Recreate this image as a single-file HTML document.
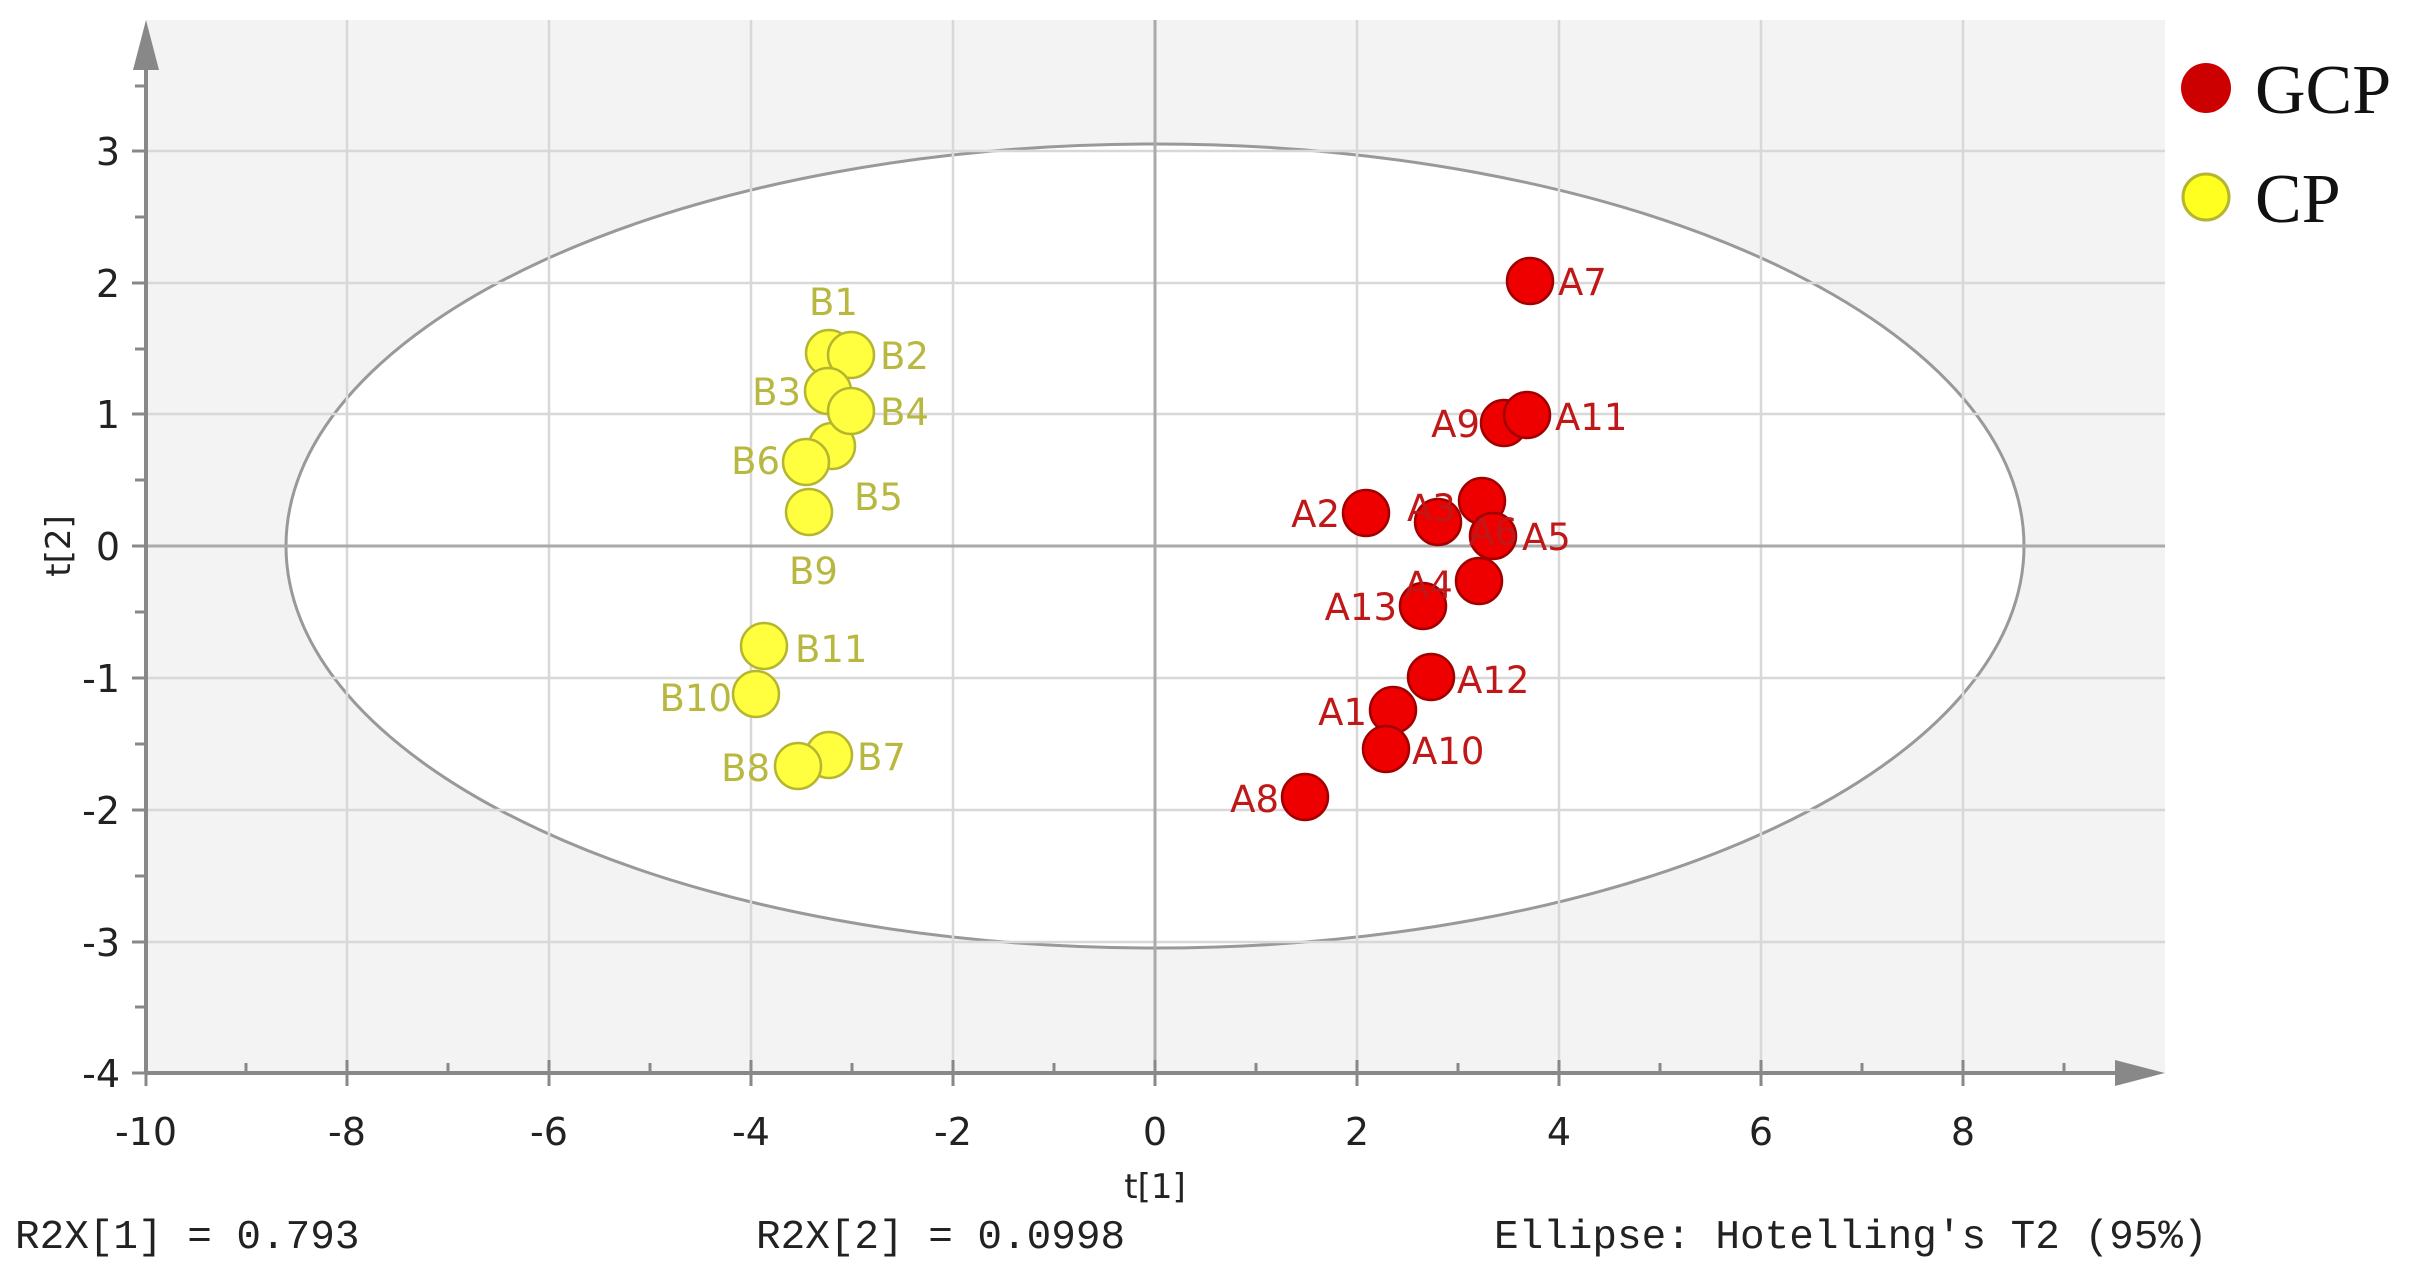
<!DOCTYPE html>
<html><head><meta charset="utf-8"><style>
html,body{margin:0;padding:0;background:#fff;}
svg{display:block;}
.tk{font-family:"DejaVu Sans","Liberation Sans",sans-serif;font-size:38px;fill:#222;}
.la{font-family:"DejaVu Sans","Liberation Sans",sans-serif;font-size:37px;}
.mono{font-family:"Liberation Mono","DejaVu Sans Mono",monospace;font-size:41px;fill:#222;}
</style></head><body>
<svg width="2430" height="1267" viewBox="0 0 2430 1267" xmlns="http://www.w3.org/2000/svg">
<rect x="146" y="20" width="2019" height="1053" fill="#f3f3f3"/>
<ellipse cx="1155" cy="546" rx="869" ry="402" fill="#fff" stroke="#999" stroke-width="3"/>
<g stroke="#d8d8d8" stroke-width="2.5">
<line x1="347" y1="20" x2="347" y2="1073"/><line x1="549" y1="20" x2="549" y2="1073"/>
<line x1="751" y1="20" x2="751" y2="1073"/><line x1="953" y1="20" x2="953" y2="1073"/>
<line x1="1357" y1="20" x2="1357" y2="1073"/><line x1="1559" y1="20" x2="1559" y2="1073"/>
<line x1="1761" y1="20" x2="1761" y2="1073"/><line x1="1963" y1="20" x2="1963" y2="1073"/>
<line x1="146" y1="151" x2="2165" y2="151"/><line x1="146" y1="283" x2="2165" y2="283"/>
<line x1="146" y1="414" x2="2165" y2="414"/><line x1="146" y1="678" x2="2165" y2="678"/>
<line x1="146" y1="810" x2="2165" y2="810"/><line x1="146" y1="942" x2="2165" y2="942"/>
</g>
<g stroke="#aaa" stroke-width="3">
<line x1="1155" y1="20" x2="1155" y2="1073"/><line x1="146" y1="546" x2="2165" y2="546"/>
</g>
<g stroke="#888" stroke-width="4">
<line x1="146" y1="60" x2="146" y2="1073"/><line x1="146" y1="1073" x2="2125" y2="1073"/>
</g>
<polygon points="146,20 133,70 159,70" fill="#888"/>
<polygon points="2165,1073 2115,1060 2115,1086" fill="#888"/>
<g stroke="#888" stroke-width="3">
<line x1="135" y1="86" x2="146" y2="86"/><line x1="132" y1="151" x2="146" y2="151"/>
<line x1="135" y1="217" x2="146" y2="217"/><line x1="132" y1="283" x2="146" y2="283"/>
<line x1="135" y1="349" x2="146" y2="349"/><line x1="132" y1="414" x2="146" y2="414"/>
<line x1="135" y1="480" x2="146" y2="480"/><line x1="132" y1="546" x2="146" y2="546"/>
<line x1="135" y1="612" x2="146" y2="612"/><line x1="132" y1="678" x2="146" y2="678"/>
<line x1="135" y1="744" x2="146" y2="744"/><line x1="132" y1="810" x2="146" y2="810"/>
<line x1="135" y1="876" x2="146" y2="876"/><line x1="132" y1="942" x2="146" y2="942"/>
<line x1="135" y1="1007" x2="146" y2="1007"/><line x1="132" y1="1073" x2="146" y2="1073"/>
<line x1="246" y1="1063" x2="246" y2="1073"/><line x1="347" y1="1060" x2="347" y2="1086"/>
<line x1="448" y1="1063" x2="448" y2="1073"/><line x1="549" y1="1060" x2="549" y2="1086"/>
<line x1="650" y1="1063" x2="650" y2="1073"/><line x1="751" y1="1060" x2="751" y2="1086"/>
<line x1="852" y1="1063" x2="852" y2="1073"/><line x1="953" y1="1060" x2="953" y2="1086"/>
<line x1="1054" y1="1063" x2="1054" y2="1073"/><line x1="1155" y1="1060" x2="1155" y2="1086"/>
<line x1="1256" y1="1063" x2="1256" y2="1073"/><line x1="1357" y1="1060" x2="1357" y2="1086"/>
<line x1="1458" y1="1063" x2="1458" y2="1073"/><line x1="1559" y1="1060" x2="1559" y2="1086"/>
<line x1="1660" y1="1063" x2="1660" y2="1073"/><line x1="1761" y1="1060" x2="1761" y2="1086"/>
<line x1="1862" y1="1063" x2="1862" y2="1073"/><line x1="1963" y1="1060" x2="1963" y2="1086"/>
<line x1="2064" y1="1063" x2="2064" y2="1073"/><line x1="146" y1="1073" x2="146" y2="1086"/>
</g>
<g class="tk" text-anchor="end">
<text x="120" y="165">3</text><text x="120" y="297">2</text><text x="120" y="428">1</text>
<text x="120" y="560">0</text><text x="120" y="692">-1</text><text x="120" y="824">-2</text>
<text x="120" y="956">-3</text><text x="120" y="1087">-4</text>
</g>
<g class="tk" text-anchor="middle">
<text x="146" y="1145">-10</text><text x="347" y="1145">-8</text><text x="549" y="1145">-6</text>
<text x="751" y="1145">-4</text><text x="953" y="1145">-2</text><text x="1155" y="1145">0</text>
<text x="1357" y="1145">2</text><text x="1559" y="1145">4</text><text x="1761" y="1145">6</text>
<text x="1963" y="1145">8</text>
<text x="1155" y="1198" font-size="34">t[1]</text>
<text transform="translate(70,546) rotate(-90)" font-size="34">t[2]</text>
</g>
<g fill="#ffff40" stroke="#b5b530" stroke-width="2.5">
<circle cx="829" cy="353" r="23"/><circle cx="851" cy="355" r="23"/>
<circle cx="828" cy="391" r="23"/><circle cx="832" cy="446" r="23"/>
<circle cx="851" cy="411" r="23"/><circle cx="806" cy="462" r="23"/>
<circle cx="809" cy="512" r="23"/><circle cx="764" cy="646" r="23"/>
<circle cx="756" cy="694" r="23"/><circle cx="829" cy="755" r="23"/>
<circle cx="798" cy="766" r="23"/>
</g>
<g fill="#ee0000" stroke="#a00000" stroke-width="2.5">
<circle cx="1530" cy="281" r="23"/><circle cx="1504" cy="423" r="23"/>
<circle cx="1527" cy="415" r="23"/><circle cx="1366" cy="513" r="23"/>
<circle cx="1482" cy="501" r="23"/><circle cx="1438" cy="522" r="23"/>
<circle cx="1493" cy="536" r="23"/><circle cx="1479" cy="581" r="23"/>
<circle cx="1423" cy="606" r="23"/><circle cx="1431" cy="677" r="23"/>
<circle cx="1393" cy="710" r="23"/><circle cx="1386" cy="749" r="23"/>
<circle cx="1305" cy="797" r="23"/>
</g>
<g class="la" fill="#b8b840">
<text x="809" y="315">B1</text><text x="880" y="369">B2</text>
<text x="801" y="405" text-anchor="end">B3</text><text x="880" y="425">B4</text>
<text x="780" y="474" text-anchor="end">B6</text><text x="854" y="510">B5</text>
<text x="789" y="584">B9</text><text x="795" y="662">B11</text>
<text x="732" y="711" text-anchor="end">B10</text><text x="857" y="770">B7</text>
<text x="770" y="781" text-anchor="end">B8</text>
</g>
<g class="la" fill="#c01818">
<text x="1558" y="295">A7</text><text x="1555" y="430">A11</text>
<text x="1480" y="437" text-anchor="end">A9</text><text x="1340" y="527" text-anchor="end">A2</text>
<text x="1407" y="521">A3</text><text x="1469" y="545">A6</text>
<text x="1522" y="550">A5</text><text x="1404" y="598">A4</text>
<text x="1397" y="620" text-anchor="end">A13</text><text x="1457" y="693">A12</text>
<text x="1367" y="725" text-anchor="end">A1</text><text x="1412" y="764">A10</text>
<text x="1279" y="812" text-anchor="end">A8</text>
</g>
<circle cx="2206" cy="88" r="25" fill="#cc0000"/>
<circle cx="2206" cy="197" r="23" fill="#ffff20" stroke="#b5b530" stroke-width="3"/>
<g font-family="'Liberation Serif',serif" font-size="70" fill="#111">
<text x="2255" y="113">GCP</text><text x="2255" y="222">CP</text>
</g>
<text class="mono" x="15" y="1248">R2X[1] = 0.793</text>
<text class="mono" x="756" y="1248">R2X[2] = 0.0998</text>
<text class="mono" x="1494" y="1248">Ellipse: Hotelling's T2 (95%)</text>
</svg>
</body></html>
